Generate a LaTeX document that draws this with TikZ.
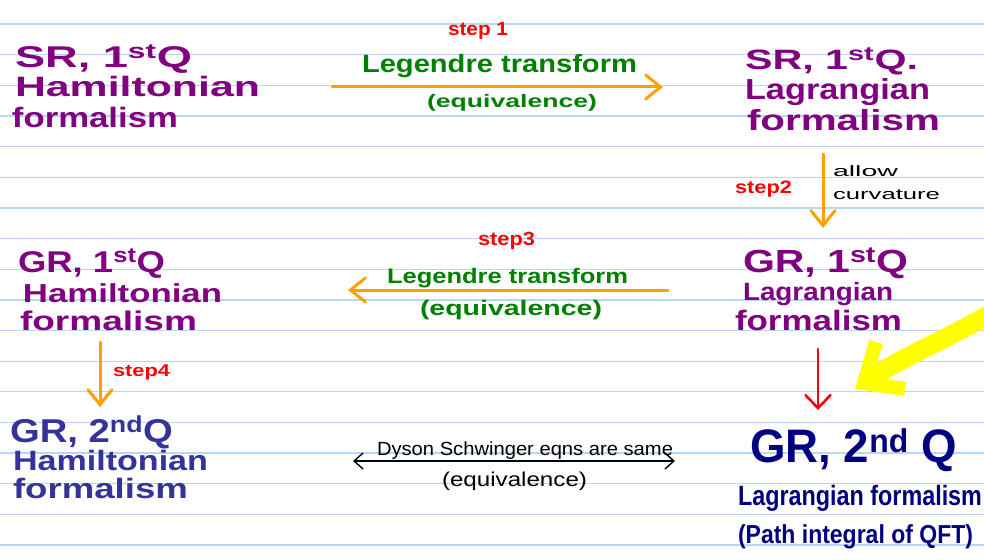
\documentclass[tikz,border=0pt]{standalone}
\usepackage{fontspec}
\setmainfont{Liberation Sans}
\usetikzlibrary{arrows.meta}
\definecolor{ruled}{RGB}{185,215,245}
\definecolor{hpurple}{RGB}{128,0,128}
\definecolor{hgreen}{RGB}{0,128,0}
\definecolor{horange}{RGB}{255,160,0}
\definecolor{hred}{RGB}{255,0,0}
\definecolor{hblue}{RGB}{51,51,153}
\definecolor{hnavy}{RGB}{0,0,128}
\definecolor{hyellow}{RGB}{255,255,0}
\newcommand{\fitw}[2]{\resizebox{#1pt}{\height}{#2}}
\newcommand{\sups}[1]{\textsuperscript{#1}}
\begin{document}
\begin{tikzpicture}[x=1pt,y=-1pt,
  hw/.style={anchor=base west,inner sep=0pt,outer sep=0pt},
  mk/.style={hw,font=\bfseries\fontsize{#1}{#1}\selectfont},
  pen/.style={hw,font=\fontsize{#1}{#1}\selectfont},
  oarrow/.style={draw=horange,line width=3pt,line cap=round,-{Straight Barb[length=15pt,width=24pt,line cap=round]}},
  rarrow/.style={draw=hred,line width=2.6pt,line cap=round,-{Straight Barb[length=13pt,width=25pt,line cap=round]}},
  karrow/.style={draw=black,line width=1.4pt,line cap=round,{Straight Barb[length=9pt,width=16pt]}-{Straight Barb[length=9pt,width=16pt]}},
  ruleline/.style={draw=ruled,line width=1.3pt}
 ]
\fill[white] (0,0) rectangle (984,559);
\useasboundingbox (0,0) rectangle (984,559);
\foreach \k in {0,...,17} \draw[ruleline] (0,{24+30.65*\k}) -- (984,{24+30.65*\k});

% top-left
\node[mk=30,text=hpurple] (tl1) at (15,68) {\fitw{177}{SR, 1\sups{st}Q}};
\node[mk=28,text=hpurple] (tl2) at (15,97) {\fitw{245}{Hamiltonian}};
\node[mk=28,text=hpurple] (tl3) at (12,128) {\fitw{166}{formalism}};

% step 1
\node[mk=19,text=hred] (s1) at (448,36) {\fitw{60}{step 1}};
\node[mk=25,text=hgreen] (lt1) at (362,73) {\fitw{275}{Legendre transform}};
\node[mk=18,text=hgreen] (eq1) at (427,108) {\fitw{170}{(equivalence)}};
\coordinate (a1s) at (332,87);
\coordinate (a1e) at (663,87);
\draw[oarrow] (a1s) -- (a1e);

% top-right
\node[mk=28,text=hpurple] (tr1) at (745,70) {\fitw{173}{SR, 1\sups{st}Q.}};
\node[mk=29,text=hpurple] (tr2) at (745,100) {\fitw{185}{Lagrangian}};
\node[mk=29,text=hpurple] (tr3) at (747,130) {\fitw{193}{formalism}};

% step 2
\coordinate (a2s) at (823,154);
\coordinate (a2e) at (823,228);
\draw[oarrow] (a2s) -- (a2e);
\node[mk=18,text=hred] (s2) at (735,193) {\fitw{57}{step2}};
\node[pen=15] (al1) at (833,176) {\fitw{65}{allow}};
\node[pen=15] (al2) at (833,199) {\fitw{107}{curvature}};

% middle-right
\node[mk=32,text=hpurple] (mr1) at (743,272) {\fitw{165}{GR, 1\sups{st}Q}};
\node[mk=25,text=hpurple] (mr2) at (743,300) {\fitw{150}{Lagrangian}};
\node[mk=28,text=hpurple] (mr3) at (735,330) {\fitw{167}{formalism}};
\coordinate (a5s) at (818,349);
\coordinate (a5e) at (818,410);
\draw[rarrow] (a5s) -- (a5e);

% yellow pointer
\draw[hyellow,line width=19pt] (995,311) .. controls (950,338) and (905,355) .. (868,380);
\draw[hyellow,line width=14pt,line join=miter] (876,342) -- (864,383) -- (905,389);

% bottom-right
\node[mk=47,text=hnavy] (br1) at (750,462) {\fitw{207}{GR, 2\sups{nd} Q}};
\node[mk=28,text=hnavy] (br2) at (738,505) {\fitw{244}{Lagrangian formalism}};
\node[mk=26,text=hnavy] (br3) at (738,543) {\fitw{235}{(Path integral of QFT)}};

% step 3
\node[mk=19,text=hred] (s3) at (478,245) {\fitw{57}{step3}};
\node[mk=21,text=hgreen] (lt3) at (387,283) {\fitw{241}{Legendre transform}};
\node[mk=21,text=hgreen] (eq3) at (420,315) {\fitw{182}{(equivalence)}};
\coordinate (a3s) at (668,290);
\coordinate (a3e) at (348,290);
\draw[oarrow] (a3s) -- (a3e);

% middle-left
\node[mk=30,text=hpurple] (ml1) at (18,272) {\fitw{147}{GR, 1\sups{st}Q}};
\node[mk=26,text=hpurple] (ml2) at (23,302) {\fitw{199}{Hamiltonian}};
\node[mk=27,text=hpurple] (ml3) at (20,330) {\fitw{177}{formalism}};

% step 4
\coordinate (a4s) at (100,342);
\coordinate (a4e) at (100,407);
\draw[oarrow] (a4s) -- (a4e);
\node[mk=17,text=hred] (s4) at (113,376) {\fitw{57}{step4}};

% bottom-left
\node[mk=33,text=hblue] (bl1) at (10,442) {\fitw{163}{GR, 2\sups{nd}Q}};
\node[mk=28,text=hblue] (bl2) at (13,470) {\fitw{195}{Hamiltonian}};
\node[mk=28,text=hblue] (bl3) at (13,498) {\fitw{175}{formalism}};

% Dyson-Schwinger
\coordinate (dsl) at (353,461);
\coordinate (dsr) at (675,461);
\draw[karrow] (dsl) -- (dsr);
\node[pen=19] (ds1) at (377,455) {\fitw{296}{Dyson Schwinger eqns are same}};
\node[pen=20] (ds2) at (442,486) {\fitw{145}{(equivalence)}};
\end{tikzpicture}
\end{document}
